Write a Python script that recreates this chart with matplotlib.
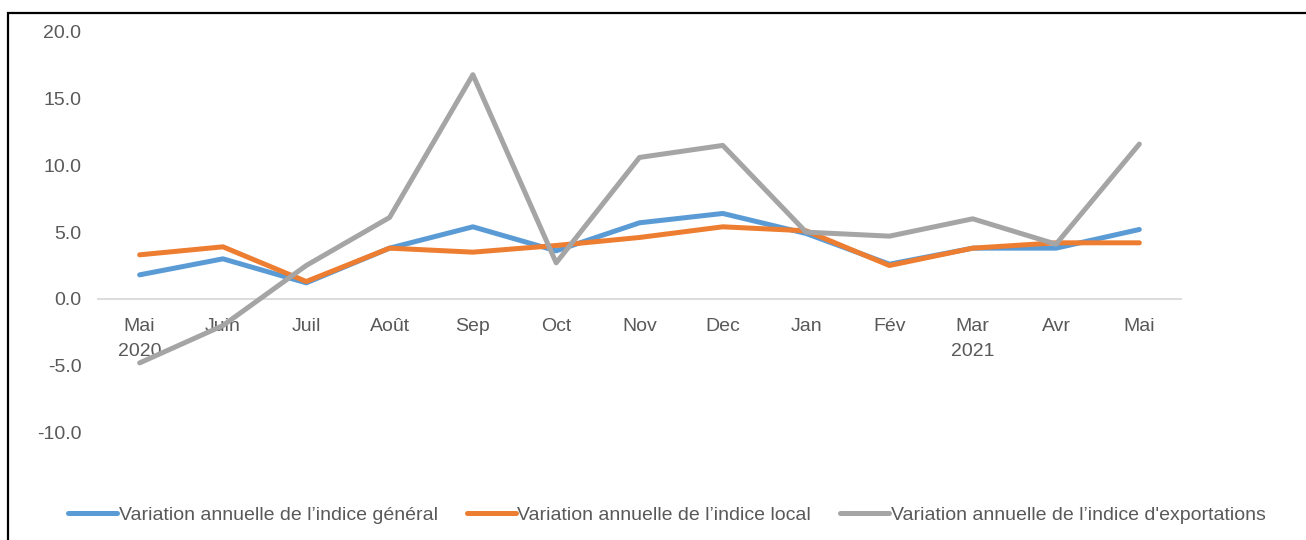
import matplotlib
matplotlib.use("Agg")
import matplotlib.pyplot as plt
from matplotlib.patches import Rectangle

plt.rcParams['font.family'] = ['Liberation Sans', 'DejaVu Sans']

categories = ["Mai\n2020", "Juin", "Juil", "Août", "Sep", "Oct", "Nov", "Dec",
              "Jan", "Fév", "Mar\n2021", "Avr", "Mai"]
general = [1.8, 3.0, 1.2, 3.8, 5.4, 3.6, 5.7, 6.4, 4.9, 2.6, 3.8, 3.8, 5.2]
local = [3.3, 3.9, 1.3, 3.8, 3.5, 4.0, 4.6, 5.4, 5.1, 2.5, 3.8, 4.2, 4.2]
exportations = [-4.8, -2.0, 2.5, 6.1, 16.8, 2.7, 10.6, 11.5, 5.0, 4.7, 6.0, 4.1, 11.6]
series_labels = ["Variation annuelle de l\u2019indice général",
                 "Variation annuelle de l\u2019indice local",
                 "Variation annuelle de l\u2019indice d'exportations"]
yticks = [-10, -5, 0, 5, 10, 15, 20]

W, H = 1306, 540
fig = plt.figure(figsize=(W / 100, H / 100), dpi=100)
ax = fig.add_axes([98 / W, 1 - 499 / H, (1181 - 98) / W, (499 - 32) / H])

x = list(range(len(categories)))
colors = ["#5B9BD5", "#ED7D31", "#A5A5A5"]
for vals, c, lab in zip([general, local, exportations], colors, series_labels):
    ax.plot(x, vals, color=c, lw=3.6, label=lab,
            solid_capstyle='round', solid_joinstyle='round')

ax.set_xlim(-0.5, len(categories) - 0.5)
ax.set_ylim(-15, 20)
ax.set_yticks(yticks)
ax.set_yticklabels([f"{v:.1f}" for v in yticks])
ax.set_xticks(x)
ax.set_xticklabels(categories)

for s in ['top', 'right', 'left']:
    ax.spines[s].set_visible(False)
ax.spines['bottom'].set_position(('data', 0))
ax.spines['bottom'].set_color('#D9D9D9')
ax.spines['bottom'].set_linewidth(1.3)
ax.spines['bottom'].set_zorder(0)

ax.tick_params(axis='both', length=0, labelsize=14, labelcolor='#595959')
ax.tick_params(axis='y', pad=12)
ax.tick_params(axis='x', pad=14)
for t in ax.get_xticklabels():
    t.set_linespacing(1.6)

fig.legend(loc='center', bbox_to_anchor=(667 / W, 1 - 515 / H), ncol=3,
           frameon=False, fontsize=14, handlelength=2.5, handletextpad=0.1,
           columnspacing=1.5, labelcolor='#595959')

fig.patches.append(Rectangle((8 / W, -0.2), 1.2, 1.2 - 13 / H,
                             transform=fig.transFigure, fill=False,
                             edgecolor='black', lw=1.6, clip_on=False))

fig.savefig("out.png", dpi=100)
